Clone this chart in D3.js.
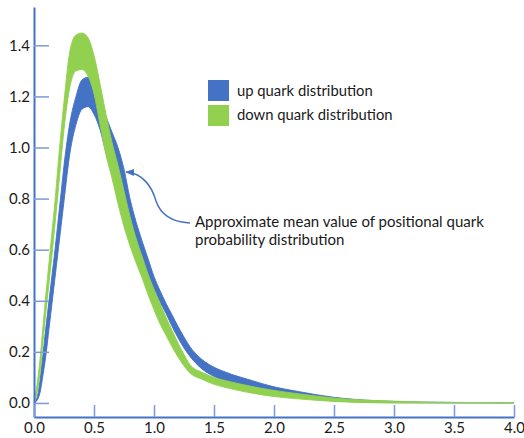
<!DOCTYPE html>
<html>
<head>
<meta charset="utf-8">
<script src="https://cdn.jsdelivr.net/npm/d3@7"></script>
<style>
  html, body { margin: 0; padding: 0; background: #ffffff; }
  svg { display: block; }
  text { font-family: Lato, "Open Sans", sans-serif; fill: #1a1a1a; }
</style>
</head>
<body>
<svg id="chart" width="524" height="438"></svg>
<script>
// ---- data ----
const xs = [0, 0.025, 0.05, 0.075, 0.1, 0.125, 0.15, 0.175, 0.2, 0.225, 0.25, 0.3, 0.35, 0.4, 0.45, 0.5, 0.55, 0.6, 0.65, 0.7, 0.75, 0.8, 0.85, 0.9, 0.95, 1.0, 1.05, 1.1, 1.15, 1.2, 1.25, 1.3, 1.4, 1.5, 1.6, 1.8, 2.0, 2.2, 2.5, 3.0, 3.5, 4.0];

const upHi = [0, 0.02, 0.09, 0.19, 0.30, 0.40, 0.50, 0.60, 0.71, 0.82, 0.93, 1.10, 1.20, 1.265, 1.275, 1.235, 1.18, 1.12, 1.06, 1.00, 0.915, 0.80, 0.71, 0.635, 0.565, 0.495, 0.44, 0.39, 0.345, 0.30, 0.258, 0.22, 0.17, 0.14, 0.12, 0.09, 0.063, 0.045, 0.022, 0.006, 0.002, 0.001];
const upLo = [0, 0.01, 0.04, 0.11, 0.19, 0.29, 0.39, 0.49, 0.59, 0.69, 0.79, 0.98, 1.09, 1.15, 1.16, 1.13, 1.07, 0.98, 0.90, 0.83, 0.76, 0.69, 0.625, 0.565, 0.50, 0.445, 0.395, 0.35, 0.30, 0.255, 0.215, 0.182, 0.133, 0.104, 0.085, 0.058, 0.037, 0.024, 0.008, 0.001, 0, 0];

const downHi = [0, 0.07, 0.17, 0.30, 0.43, 0.55, 0.67, 0.79, 0.93, 1.06, 1.18, 1.38, 1.44, 1.448, 1.43, 1.36, 1.25, 1.13, 1.02, 0.93, 0.83, 0.73, 0.645, 0.575, 0.505, 0.445, 0.39, 0.335, 0.285, 0.235, 0.19, 0.15, 0.12, 0.10, 0.087, 0.066, 0.049, 0.036, 0.019, 0.007, 0.002, 0.001];
const downLo = [0, 0.04, 0.12, 0.24, 0.36, 0.47, 0.58, 0.70, 0.82, 0.95, 1.07, 1.24, 1.30, 1.305, 1.28, 1.21, 1.09, 0.97, 0.88, 0.78, 0.69, 0.615, 0.55, 0.49, 0.425, 0.365, 0.31, 0.265, 0.22, 0.18, 0.145, 0.117, 0.093, 0.073, 0.06, 0.04, 0.025, 0.016, 0.006, 0, 0, 0];

const xTicks = [0, 0.5, 1.0, 1.5, 2.0, 2.5, 3.0, 3.5, 4.0];
const yTicks = [0, 0.2, 0.4, 0.6, 0.8, 1.0, 1.2, 1.4];

const seriesNames = ["up quark distribution", "down quark distribution"];
const seriesColors = ["#4472C4", "#92D050"];
const noteLines = ["Approximate mean value of positional quark", "probability distribution"];

// ---- scales ----
const svg = d3.select("#chart");
const x = d3.scaleLinear().domain([0, 4]).range([34, 514]);
const y = d3.scaleLinear().domain([-0.055, 1.55]).range([417, 7]);

const axisColor = "#4472C4";
const tickColor = "#7b9ad8";

// ---- bands ----
function band(lo, hi) {
  return xs.map((v, i) => ({ x: v, lo: lo[i], hi: hi[i] }));
}
const area = d3.area()
  .x(d => x(d.x))
  .y0(d => y(d.lo))
  .y1(d => y(d.hi))
  .curve(d3.curveMonotoneX);

const bands = [band(upLo, upHi), band(downLo, downHi)];
bands.forEach((b, i) => {
  svg.append("path")
    .datum(b)
    .attr("d", area)
    .attr("fill", seriesColors[i])
    .attr("stroke", seriesColors[i])
    .attr("stroke-width", 0.9)
    .attr("stroke-linejoin", "round");
});

// ---- axes ----
const yAxis = d3.axisLeft(y)
  .tickValues(yTicks)
  .tickFormat(d3.format(".1f"))
  .tickSizeInner(-15)
  .tickSizeOuter(0)
  .tickPadding(4);
const gy = svg.append("g").attr("transform", `translate(${x(0)},0)`).call(yAxis);

const xAxis = d3.axisBottom(x)
  .tickValues(xTicks)
  .tickFormat(d3.format(".1f"))
  .tickSizeInner(-12)
  .tickSizeOuter(0)
  .tickPadding(5);
const gx = svg.append("g").attr("transform", `translate(0,${y.range()[0]})`).call(xAxis);

[gx, gy].forEach(g => {
  g.select(".domain").attr("stroke", axisColor).attr("stroke-width", 2);
  g.selectAll(".tick line").attr("stroke", tickColor).attr("stroke-width", 1.5);
  g.selectAll(".tick text")
    .attr("font-family", "Lato, 'Open Sans', sans-serif")
    .attr("font-size", 15)
    .attr("fill", "#1a1a1a");
});

// ---- legend ----
const legend = svg.append("g");
seriesNames.forEach((name, i) => {
  legend.append("rect")
    .attr("x", 208).attr("y", 80 + i * 25)
    .attr("width", 21).attr("height", 21)
    .attr("fill", seriesColors[i]);
  legend.append("text")
    .attr("x", 237).attr("y", 96 + i * 24)
    .attr("font-size", 14.8)
    .text(name);
});

// ---- annotation ----
const defs = svg.append("defs");
defs.append("marker")
  .attr("id", "arrow")
  .attr("viewBox", "0 0 10 10")
  .attr("refX", 9).attr("refY", 5)
  .attr("markerWidth", 6).attr("markerHeight", 6)
  .attr("orient", "auto")
  .append("path")
  .attr("d", "M0,1 L10,5 L0,9 z")
  .attr("fill", axisColor);

svg.append("path")
  .attr("d", "M190,223 C170,222 160,213 156,201 C152,187 143,173 126,172")
  .attr("fill", "none")
  .attr("stroke", axisColor)
  .attr("stroke-width", 1.5)
  .attr("marker-end", "url(#arrow)");

noteLines.forEach((t, i) => {
  svg.append("text")
    .attr("x", 195).attr("y", 227 + i * 18)
    .attr("font-size", 15)
    .text(t);
});
</script>
</body>
</html>
